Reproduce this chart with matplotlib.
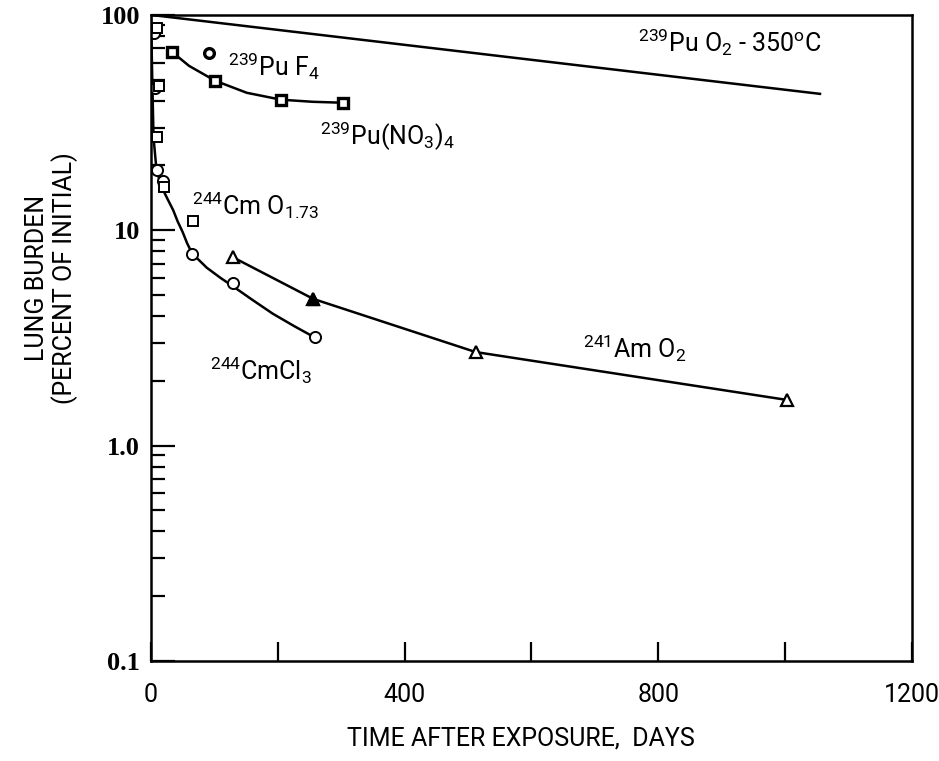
import matplotlib
matplotlib.use("Agg")
import matplotlib.pyplot as plt

# data (days, percent of initial)
puo2_x = [0, 1055]
puo2_y = [100, 43]

puno3_x = [33, 101, 205, 303]
puno3_y = [67.4, 49.5, 40.4, 39.1]
puno3_fit_x = [33, 60, 101, 151, 205, 255, 303]
puno3_fit_y = [67.4, 58, 49.5, 43.5, 40.4, 39.5, 39.1]

puf4_x = [91]
puf4_y = [66.7]

cmo_x = [9, 12, 9, 20, 66]
cmo_y = [87, 47, 27, 15.8, 11.1]

cmcl_x = [4, 6, 9, 19, 65, 129, 259]
cmcl_y = [82, 46, 19, 17, 7.8, 5.7, 3.2]
cmcl_fit_x = [0, 2, 4, 8, 13, 19, 27, 35, 42, 50, 57, 65, 88, 110, 129, 160, 192, 225, 259]
cmcl_fit_y = [100, 50, 27, 20, 17.2, 15.4, 13.8, 12.4, 11.0, 9.8, 8.7, 7.8, 6.7, 6.0, 5.5, 4.75, 4.1, 3.6, 3.17]

am_x = [129, 256, 512, 1003]
am_y = [7.5, 4.8, 2.72, 1.63]

sans = 'Roboto'
plt.rcParams['mathtext.fontset'] = 'custom'
plt.rcParams['mathtext.rm'] = sans
plt.rcParams['mathtext.it'] = sans

fig = plt.figure(figsize=(9.39, 7.61), dpi=100)
ax = fig.add_axes([0.1608, 0.1314, 0.8104, 0.849])

lw = 1.8
ax.plot(puo2_x, puo2_y, color='black', lw=lw)

ax.plot(puno3_fit_x, puno3_fit_y, color='black', lw=lw)
ax.plot(puno3_x, puno3_y, ls='none', marker='s', ms=7, mfc='white', mec='black', mew=2.4)

ax.plot(puf4_x, puf4_y, ls='none', marker='o', ms=7, mfc='white', mec='black', mew=2.4)

ax.plot(cmcl_fit_x, cmcl_fit_y, color='black', lw=lw)
ax.plot(cmcl_x, cmcl_y, ls='none', marker='o', ms=8, mfc='white', mec='black', mew=1.4)
ax.plot(cmo_x, cmo_y, ls='none', marker='s', ms=7, mfc='white', mec='black', mew=1.4)

ax.plot(am_x, am_y, color='black', lw=lw)
ax.plot(am_x, am_y, ls='none', marker='^', ms=8, mfc='white', mec='black', mew=1.6)
ax.plot(am_x[1], am_y[1], ls='none', marker='^', ms=8, mfc='black', mec='black')

ax.set_yscale('log')
ax.set_xlim(0, 1200)
ax.set_ylim(0.1, 100)

# labels on curves
tk = dict(fontsize=18, family=sans, ha='left', va='baseline')
ax.text(768, 67.3, r'$^{239}$Pu O$_2$ - 350$^{\rm o}$C', **tk)
ax.text(122, 52, r'$^{239}$Pu F$_4$', **tk)
ax.text(266, 25, r'$^{239}$Pu(NO$_3$)$_4$', **tk)
ax.text(65, 11.8, r'$^{244}$Cm O$_{1.73}$', **tk)
ax.text(93, 2.02, r'$^{244}$CmCl$_3$', **tk)
ax.text(681, 2.56, r'$^{241}$Am O$_2$', **tk)

# ticks
ax.set_xticks([0, 200, 400, 600, 800, 1000, 1200])
ax.set_xticklabels(['0', '', '400', '', '800', '', '1200'], family=sans, fontsize=18)
ax.set_yticks([0.1, 1, 10, 100])
ax.set_yticklabels(['0.1', '1.0', '10', '100'], family='Liberation Serif', fontsize=19, fontweight='bold')
ax.tick_params(axis='x', direction='in', length=14, width=1.6, pad=16, top=False)
ax.tick_params(axis='y', which='major', direction='in', length=17, width=1.6, pad=8, right=False)
ax.tick_params(axis='y', which='minor', direction='in', length=10, width=1.6, right=False)
ax.tick_params(axis='x', which='minor', bottom=False, top=False)
for s in ax.spines.values():
    s.set_linewidth(1.8)

fig.text(0.555, 0.03, 'TIME AFTER EXPOSURE,  DAYS', family=sans, fontsize=18, ha='center', va='center')
fig.text(0.055, 0.635, 'LUNG BURDEN\n(PERCENT OF INITIAL)', family=sans, fontsize=18,
         ha='center', va='center', rotation=90, linespacing=1.1)

fig.savefig('out.png', dpi=100)
